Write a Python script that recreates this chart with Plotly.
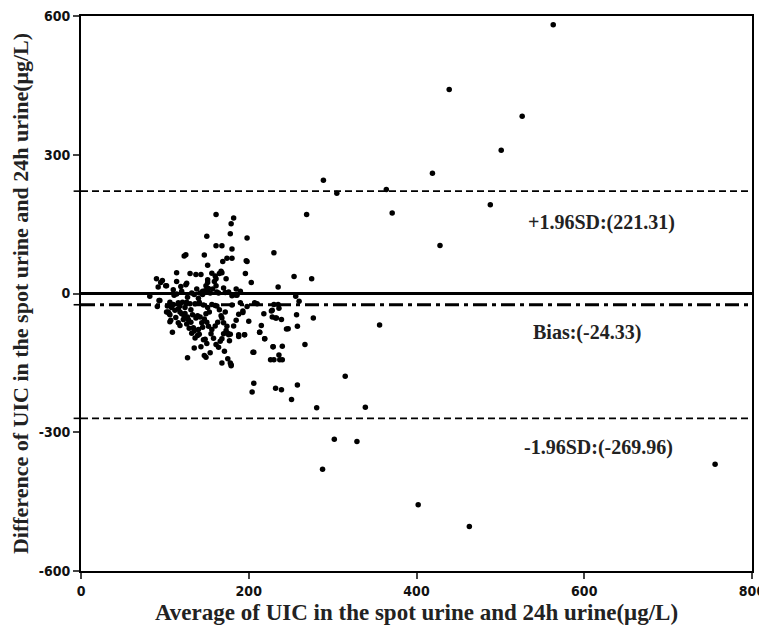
import plotly.graph_objects as go

# Bland-Altman data (average, difference)
avg = [161, 182, 179, 178, 150, 198, 161, 168, 180, 125, 123, 147, 174, 180, 169, 197, 198, 230, 151, 114,
       130, 137, 143, 156, 167, 168, 165, 160, 161, 159, 161, 173, 196, 203, 235, 90, 97, 92, 102, 126,
       119, 151, 151, 149, 152, 150, 148, 145, 142, 145, 114, 111, 82, 132, 135, 154, 162, 164, 172, 176,
       180, 184, 186, 254, 275, 256, 114, 125, 95, 101,
       93, 106, 110, 103, 116, 121, 126, 130, 136, 141, 160, 156, 162, 102, 106, 105, 116, 118, 120, 123,
       124, 127, 133, 139, 142, 137, 151, 149, 167, 168, 193, 193, 207, 210, 218, 228, 235, 228, 233, 239,
       106, 116, 118, 128, 131, 109, 134, 135, 140, 139, 145, 146, 148, 150, 152, 156, 174, 173, 170, 168,
       166, 164, 176, 175, 188, 195, 205, 213, 219, 215, 229, 240, 226, 230, 237, 240, 236, 247, 257, 258,
       127, 147, 149, 168, 175, 179, 178, 206, 204, 232, 239, 251, 258,
       260, 277, 356, 267, 315, 302, 329, 288, 402, 463, 756, 339, 281,
       563, 439, 526, 501, 419, 289, 305, 364, 269, 371, 488, 428,
       230, 236, 227, 232, 245, 178, 188, 195, 213, 219, 229, 206, 179,
       108, 112, 118, 122, 126, 129, 132, 136, 141, 144, 147, 153, 155, 158, 161, 163, 170, 177, 182, 185,
       190, 198, 200, 110, 120, 127, 138, 140, 157, 170, 185, 190, 113, 124, 131, 146, 165, 172, 180, 188,
       143, 150, 154, 171, 135, 160, 94, 91, 104, 107]
diff = [171, 163, 151, 129, 124, 120, 103, 103, 96, 84, 81, 83, 76, 76, 69, 71, 69, 88, 61, 45,
        43, 41, 41, 44, 48, 45, 43, 38, 32, 26, 17, 32, 43, 24, 14, 32, 28, 14, 17, 22,
        15, 30, 24, 17, 11, 7, 6, 5, 1, -2, -1, -4, -6, 1, -2, 1, 3, 1, 2, 3,
        -5, -3, -4, 37, 32, -6, 26, 19, 24, 17,
        -15, -19, -24, -27, -20, -19, -19, -22, -22, -19, -26, -24, -27, -40, -46, -43, -33, -40, -44, -48,
        -43, -51, -46, -48, -51, -53, -30, -44, -48, -53, -41, -38, -20, -22, -44, -36, -24, -51, -53, -56,
        -61, -63, -69, -57, -62, -84, -74, -81, -78, -91, -73, -100, -99, -62, -71, -78, -71, -80, -87, -98,
        -103, -116, -89, -86, -89, -89, -127, -84, -98, -69, -115, -114, -143, -143, -143, -143, -133, -76, -46, -71,
        -139, -134, -138, -150, -141, -154, -150, -194, -213, -205, -208, -229, -198,
        -17, -53, -68, -110, -179, -315, -320, -380, -457, -504, -369, -246, -247,
        581, 441, 383, 310, 260, 245, 217, 225, 171, 174, 192, 104,
        -24, -32, -38, -53, -77, -88, -93, -89, -84, -98, -115, -127, -156,
        -30, -36, -27, -56, -66, -75, -86, -96, -88, -63, -55, -40, -87, -97, -110, -62, -63, -102, -70, -58,
        -20, -28, -60, 8, 5, -8, 10, -10, 10, 12, 10, 5, -52, -30, -35, -25, -35, -40, -25, -45,
        -115, -108, -128, -125, -118, -70, -15, -28, -40, -58]

bias = -24.33
upper = 221.31
lower = -269.96
x_ticks = [0, 200, 400, 600, 800]
x_tick_text = ["0", "200", "400", "600", "800"]
y_ticks = [-600, -300, 0, 300, 600]
y_tick_text = ["-600", "-300", "0", "300", "600"]
labels = ["+1.96SD:(221.31)", "Bias:(-24.33)", "-1.96SD:(-269.96)"]
label_pos = [(620, 153), (603, -84), (617, -333)]

fig = go.Figure()
fig.add_trace(go.Scatter(x=avg, y=diff, mode="markers",
                         marker=dict(color="black", size=5.5), showlegend=False,
                         cliponaxis=False))

# reference lines
fig.add_shape(type="line", xref="x", yref="y", x0=0, x1=800, y0=0, y1=0,
              line=dict(color="black", width=3))
fig.add_shape(type="line", xref="x", yref="y", x0=0, x1=800, y0=bias, y1=bias,
              line=dict(color="black", width=3, dash="14px,5px,4px,5px"))
for v in (upper, lower):
    fig.add_shape(type="line", xref="x", yref="y", x0=0, x1=800, y0=v, y1=v,
                  line=dict(color="black", width=1.6, dash="7px,4px"))
for v in (upper, bias, lower):
    fig.add_shape(type="line", xref="paper", yref="y", x0=-0.011, x1=0, y0=v, y1=v,
                  line=dict(color="black", width=1.6))

for t, (lx, ly) in zip(labels, label_pos):
    fig.add_annotation(x=lx, y=ly, text="<b>" + t + "</b>", showarrow=False,
                       font=dict(family="Liberation Serif", size=20, color="#222"))

axis_font = dict(family="DejaVu Sans Condensed, Liberation Sans", size=14, color="#111",
                 weight="bold")

fig.update_xaxes(range=[0, 800], tickvals=x_ticks, ticktext=x_tick_text, ticks="outside",
                 ticklen=6, tickwidth=1.5, automargin=False, ticklabeloverflow="allow",
                 showline=True, linewidth=2, linecolor="black", mirror=True,
                 showgrid=False, zeroline=False, tickfont=axis_font,
                 title=dict(text="<b>Average of UIC in the spot urine and 24h urine(μg/L)</b>",
                            font=dict(family="Liberation Serif", size=23, color="#222"),
                            standoff=6))
fig.update_yaxes(range=[-600, 600], tickvals=y_ticks, ticktext=y_tick_text, ticks="outside",
                 ticklen=6, tickwidth=1.5, automargin=False, ticklabeloverflow="allow",
                 showline=True, linewidth=2, linecolor="black", mirror=True,
                 showgrid=False, zeroline=False, tickfont=axis_font,
                 title=dict(text="<b>Difference of UIC in the spot urine and 24h urine(μg/L)</b>",
                            font=dict(family="Liberation Serif", size=22, color="#222"),
                            standoff=6))

# the page body adds an 8px offset, so the figure is sized to fit inside the window
fig.update_layout(width=759, height=624, plot_bgcolor="white", paper_bgcolor="white",
                  margin=dict(l=73, r=15, t=8, b=61))

fig.write_html("out.html")
